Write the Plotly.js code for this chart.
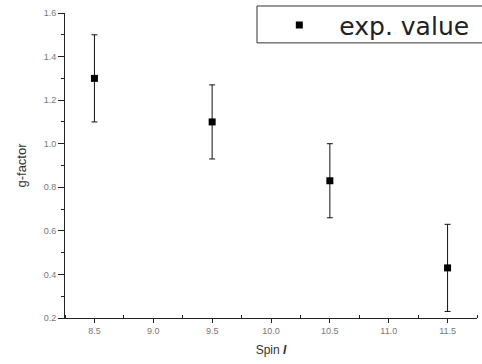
<!DOCTYPE html>
<html>
<head>
<meta charset="utf-8">
<script src="https://cdn.plot.ly/plotly-3.0.1.min.js"></script>
<style>html,body{margin:0;padding:0;background:#fff;}#chart{width:482px;height:364px;}</style>
</head>
<body>
<div id="chart"></div>
<script>
const spin = [8.5, 9.5, 10.5, 11.5];
const gFactor = [1.30, 1.10, 0.83, 0.43];
const gError = [0.20, 0.17, 0.17, 0.20];
const xTickVals = [8.5, 9.0, 9.5, 10.0, 10.5, 11.0, 11.5];
const xTickText = ['8.5', '9.0', '9.5', '10.0', '10.5', '11.0', '11.5'];
const yTickVals = [0.2, 0.4, 0.6, 0.8, 1.0, 1.2, 1.4, 1.6];
const yTickText = ['0.2', '0.4', '0.6', '0.8', '1.0', '1.2', '1.4', '1.6'];

const trace = {
  x: spin,
  y: gFactor,
  type: 'scatter',
  mode: 'markers',
  name: 'exp. value',
  marker: {symbol: 'square', size: 7, color: '#000'},
  error_y: {type: 'data', array: gError, visible: true, color: '#111', thickness: 1, width: 3}
};

const tickFont = {family: 'Liberation Sans, Arial, sans-serif', size: 9, color: '#777'};

const layout = {
  width: 482, height: 364,
  margin: {l: 65, r: 5, t: 13, b: 46, autoexpand: false},
  paper_bgcolor: '#fff', plot_bgcolor: '#fff',
  showlegend: true,
  legend: {
    xref: 'container', yref: 'container',
    x: 0.538, xanchor: 'left', y: 0.994, yanchor: 'top',
    bgcolor: 'rgba(0,0,0,0)', borderwidth: 0,
    itemwidth: 70,
    font: {family: 'DejaVu Sans, sans-serif', size: 25, color: '#222'}
  },
  shapes: [{
    type: 'rect', xref: 'paper', yref: 'paper',
    x0: 0.466, x1: 1.2, y0: 0.902, y1: 1.023,
    line: {color: '#333', width: 1}, fillcolor: 'rgba(0,0,0,0)'
  }],
  xaxis: {
    range: [8.25, 11.75],
    tickmode: 'array', tickvals: xTickVals, ticktext: xTickText,
    ticks: 'outside', ticklen: 4, tickwidth: 1, tickcolor: '#222',
    minor: {dtick: 0.5, tick0: 8.25, ticks: 'inside', ticklen: 3, tickcolor: '#222', showgrid: false},
    showline: true, linecolor: '#222', linewidth: 1,
    showgrid: false, zeroline: false,
    tickfont: tickFont,
    title: {text: 'Spin <b><i>I</i></b>', font: {family: 'Liberation Sans, Arial, sans-serif', size: 12, color: '#333'}, standoff: 10}
  },
  yaxis: {
    range: [0.2, 1.6],
    tickmode: 'array', tickvals: yTickVals, ticktext: yTickText,
    ticks: 'outside', ticklen: 6, tickwidth: 1, tickcolor: '#222',
    minor: {dtick: 0.2, tick0: 0.3, ticks: 'outside', ticklen: 3, tickcolor: '#222', showgrid: false},
    showline: true, linecolor: '#222', linewidth: 1,
    showgrid: false, zeroline: false,
    tickfont: tickFont,
    title: {text: 'g-factor', font: {family: 'Liberation Sans, Arial, sans-serif', size: 13, color: '#333'}, standoff: 14}
  }
};

Plotly.newPlot('chart', [trace], layout, {displayModeBar: false, staticPlot: true});
</script>
</body>
</html>
